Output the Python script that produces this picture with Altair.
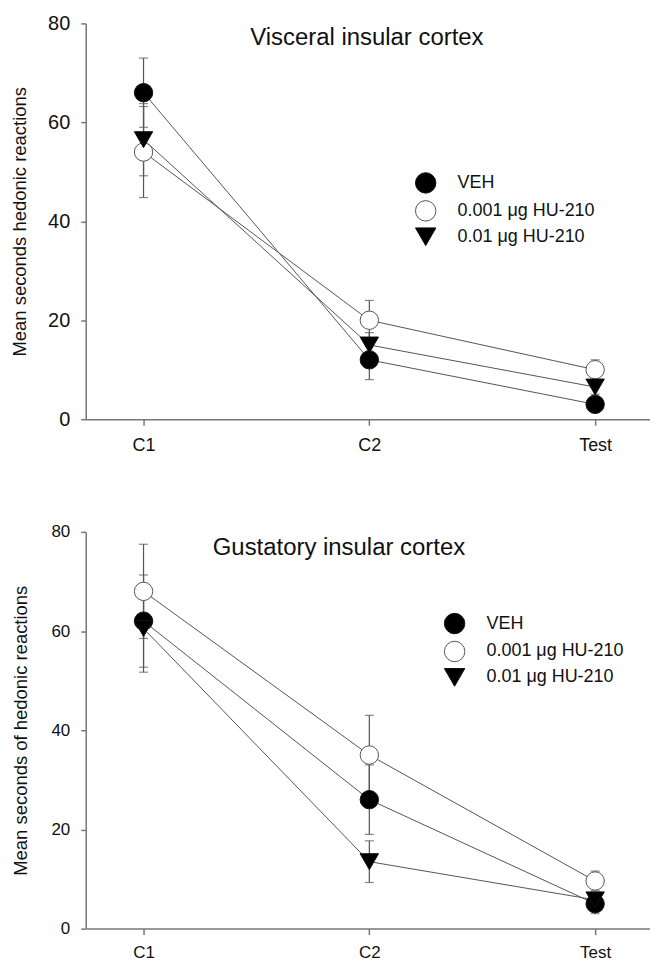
import altair as alt
import pandas as pd

FONT = "Liberation Sans"

sessions = ["C1", "C2", "Test"]
groups = ["VEH", "0.001 μg HU-210", "0.01 μg HU-210"]

# Visceral insular cortex (means, SEM)
vis_veh = [66, 12, 3]
vis_veh_sem = [7, 4, 1]
vis_low = [54, 20, 10]
vis_low_sem = [9.2, 4, 2]
vis_high = [56.5, 15, 6.5]
vis_high_sem = [7.3, 2.5, 1.5]

# Gustatory insular cortex (means, SEM)
gus_veh = [62, 26, 5]
gus_veh_sem = [9.3, 7, 2]
gus_low = [68, 35, 9.6]
gus_low_sem = [9.5, 8, 2]
gus_high = [60.5, 13.5, 5.8]
gus_high_sem = [8.8, 4.2, 1.5]

y_ticks = [0, 20, 40, 60, 80]


def make_df(series):
    rows = []
    for g, (means, sems) in zip(groups, series):
        for i, (s, m, e) in enumerate(zip(sessions, means, sems)):
            rows.append({"group": g, "session": s, "pos": i, "mean": m,
                         "lo": m - e, "hi": m + e})
    return pd.DataFrame(rows)


label_expr = "[" + ",".join("'%s'" % s for s in sessions) + "][datum.value]"


def panel(df, title, ytitle, tick_fs, ytick_fs, xlab_pad, title_x, title_y, leg_x, leg_y, lab_off, height):
    xaxis = alt.Axis(values=[0, 1, 2], labelExpr=label_expr, title=None,
                     labelFontSize=tick_fs, labelPadding=xlab_pad, tickSize=6)
    x = alt.X("pos:Q", scale=alt.Scale(domain=[-0.256, 2.243], nice=False, zero=False), axis=xaxis)
    yaxis = alt.Axis(values=y_ticks, title=ytitle, labelFontSize=ytick_fs,
                     labelPadding=11, tickSize=5, titleFontSize=18.5,
                     titleFontWeight="normal", titlePadding=19 - (ytick_fs - 19))
    yscale = alt.Scale(domain=[0, 80], nice=False, zero=True)

    base = alt.Chart(df)
    err = base.mark_rule(color="#555555", strokeWidth=1.2).encode(
        x=x, y=alt.Y("lo:Q", scale=yscale, axis=yaxis), y2="hi:Q")
    cap_lo = base.mark_tick(orient="horizontal", size=9, thickness=1.2, color="#555555").encode(
        x=x, y=alt.Y("lo:Q", scale=yscale, axis=yaxis))
    cap_hi = base.mark_tick(orient="horizontal", size=9, thickness=1.2, color="#555555").encode(
        x=x, y=alt.Y("hi:Q", scale=yscale, axis=yaxis))
    line = base.mark_line(color="#555555", strokeWidth=1).encode(
        x=x, y=alt.Y("mean:Q", scale=yscale, axis=yaxis), detail="group:N", order="pos:Q")
    leg = alt.Legend(orient="none", legendX=leg_x, legendY=leg_y, title=None,
                     labelFont=FONT, labelFontSize=18, labelColor="#111111",
                     symbolSize=420, symbolStrokeWidth=1,
                     labelOffset=lab_off, rowPadding=2, padding=0)
    pts = base.mark_point(filled=True, size=340, strokeWidth=1, opacity=1).encode(
        x=x, y=alt.Y("mean:Q", scale=yscale, axis=yaxis),
        fill=alt.Fill("group:N", sort=groups,
                      scale=alt.Scale(domain=groups, range=["#000000", "#ffffff", "#000000"]),
                      legend=leg),
        stroke=alt.Stroke("group:N", sort=groups,
                          scale=alt.Scale(domain=groups, range=["#111111", "#555555", "#111111"]),
                          legend=leg),
        shape=alt.Shape("group:N", sort=groups,
                        scale=alt.Scale(domain=groups, range=["circle", "circle", "triangle-down"]),
                        legend=leg),
    )
    ttl = alt.Chart(pd.DataFrame({"label": [title]})).mark_text(
        font=FONT, fontSize=24, align="center", baseline="alphabetic", color="#111111"
    ).encode(text="label:N", x=alt.value(title_x), y=alt.value(title_y))

    return alt.layer(err, cap_lo, cap_hi, line, pts, ttl).properties(width=566, height=height)


top = panel(make_df([(vis_veh, vis_veh_sem), (vis_low, vis_low_sem), (vis_high, vis_high_sem)]),
            "Visceral insular cortex", "Mean seconds hedonic reactions",
            18, 20, 11, 282, 22, 330, 149, 21, 397)
bottom = panel(make_df([(gus_veh, gus_veh_sem), (gus_low, gus_low_sem), (gus_high, gus_high_sem)]),
               "Gustatory insular cortex", "Mean seconds of hedonic reactions",
               17, 17, 10, 254, 23, 359, 81, 21, 398)

chart = alt.vconcat(top, bottom, spacing=69).resolve_scale(
    fill="independent", shape="independent", stroke="independent"
).resolve_legend(fill="independent", shape="independent", stroke="independent").properties(
    padding={"left": 10, "top": 12, "right": 0, "bottom": 0},
    background="white",
).configure_view(stroke=None).configure_axis(
    grid=False, domainColor="#777777", domainWidth=1.5, tickColor="#777777", tickWidth=1.5,
    labelFont=FONT, titleFont=FONT, labelColor="#111111", titleColor="#111111",
)

chart.save("out.html", embed_options={"renderer": "svg", "actions": False})
